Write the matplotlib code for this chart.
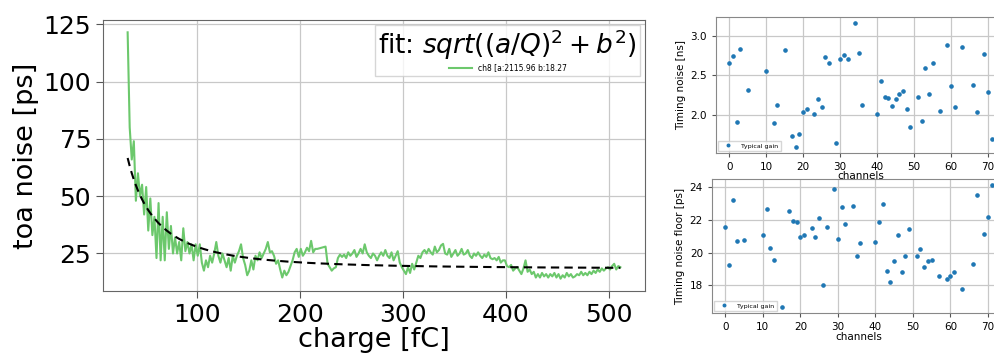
import numpy as np
import matplotlib
matplotlib.use("Agg")
import matplotlib.pyplot as plt

# toa noise vs injected charge (ch8)
charge = np.concatenate([np.arange(33, 218, 2), np.arange(225, 512, 2)])
toa_noise = [
    121.5, 80, 66, 74, 48, 60, 50, 55, 42, 54,
    35, 49, 33, 41, 23, 47, 22, 41, 22, 43,
    27, 37, 25, 32, 25, 30, 22, 36, 26, 30,
    25, 29, 22, 29, 24, 29, 21, 17.5, 22, 19,
    24, 21, 25, 30, 24, 21, 25, 22, 19, 23,
    17.5, 24, 21, 24, 26, 29, 23, 20, 15.5, 17.5,
    22, 18, 24, 22, 25.5, 23, 25, 27, 30, 25.5,
    26, 24, 20.5, 22, 18, 14.5, 17.5, 15.5, 17, 19.5,
    22, 25.5, 27, 23.5, 27, 24, 25.5, 27.5, 26, 30.5,
    25.5, 27, 27,
    28, 20.5, 19, 17.5, 18.5, 19, 23, 24.5, 23.5, 24.5,
    23, 25.5, 24, 25, 26.5, 23.5, 25, 27, 25, 29,
    25.5, 24, 23, 25, 24, 22, 24, 25.5, 24, 26.5,
    24, 23, 25.5, 22, 24, 26, 21, 19, 17.5, 16,
    19, 16.5, 20.5, 18, 21, 24, 23, 25.5, 26.5, 25,
    27, 25.5, 24.5, 28, 25.5, 26.5, 28.5, 29.2, 25, 24.5,
    27, 23.5, 25, 26.5, 24, 25, 27, 24.5, 25, 26.5,
    24, 23, 25, 24, 25.5, 24, 23, 24.5, 23.5, 25.5,
    23, 22.5, 23, 22, 23.5, 21, 22, 22, 19.5, 19,
    20, 17.5, 18.5, 19, 17.5, 16, 18.5, 22, 17, 18,
    16, 17, 14.5, 16, 14.5, 16.5, 15, 16, 14.5, 16,
    15, 16.5, 14.5, 16, 14, 15.5, 14.5, 16.5, 15, 16,
    14.5, 15, 16, 15.5, 17, 15.5, 16.5, 15.5, 17, 16,
    17.5, 16.5, 18, 17, 18.5, 17.5, 18.5, 19, 18, 19.5,
    20.5, 18, 19.5, 19,
]
fit_a = 2115.96
fit_b = 18.27

# per-channel results
ch_ns = [0, 1, 2, 3, 5, 10, 12, 13, 15, 17, 18, 19, 20, 21, 23, 24, 25, 26, 27, 29,
         30, 31, 32, 34, 35, 36, 40, 41, 42, 43, 44, 45, 46, 47, 48, 49, 51, 52, 53,
         54, 55, 57, 59, 60, 61, 63, 66, 67, 69, 70, 71]
timing_noise = [2.66, 2.74, 1.915, 2.834, 2.32, 2.553, 1.898, 2.123, 2.82, 1.736,
                1.596, 1.753, 2.034, 2.08, 2.013, 2.204, 2.102, 2.732, 2.651, 1.647,
                2.706, 2.757, 2.706, 3.16, 2.78, 2.12, 2.013, 2.43, 2.23, 2.217,
                2.115, 2.2, 2.26, 2.306, 2.077, 1.847, 2.23, 1.928, 2.59, 2.26,
                2.66, 2.047, 2.88, 2.366, 2.098, 2.864, 2.379, 2.034, 2.774, 2.285,
                1.70]

ch_ps = [0, 1, 2, 3, 5, 10, 11, 12, 13, 15, 17, 18, 19, 20, 21, 23, 24, 25, 26, 27,
         29, 30, 31, 32, 34, 35, 36, 40, 41, 42, 43, 44, 45, 46, 47, 48, 49, 51, 52,
         53, 54, 55, 57, 59, 60, 61, 63, 66, 67, 69, 70, 71]
noise_floor = [21.58, 19.26, 23.21, 20.73, 20.77, 21.09, 22.66, 20.28, 19.55, 16.66,
               22.56, 21.95, 21.88, 20.95, 21.07, 21.48, 20.97, 22.11, 18.02, 21.56,
               23.92, 20.81, 22.82, 21.76, 22.86, 19.79, 20.58, 20.66, 21.88, 22.96,
               18.87, 18.22, 19.5, 21.07, 18.79, 19.77, 21.42, 19.77, 20.2, 19.12,
               19.46, 19.53, 18.55, 18.35, 18.55, 18.79, 17.74, 19.3, 23.53, 21.13,
               22.15, 24.14]

W, H = 995, 356
fig = plt.figure(figsize=(W / 100, H / 100), dpi=100)


def box(l, t, r, b):
    return [l / W, 1 - b / H, (r - l) / W, (b - t) / H]


grid_kw = dict(color="#c8c8c8", lw=0.9)

# left: toa noise vs charge
ax = fig.add_axes(box(103, 20, 645, 291))
ax.plot(charge, toa_noise, color="#6cc86c", lw=1.5, label="ch8 [a:2115.96 b:18.27")
q = np.array(charge, dtype=float)
ax.plot(q, np.sqrt((fit_a / q) ** 2 + fit_b ** 2), "k--", lw=1.5, dashes=(4, 2.5))
ax.set_xticks([100, 200, 300, 400, 500])
ax.set_yticks([25, 50, 75, 100, 125])
ax.grid(True, **grid_kw)
ax.tick_params(labelsize=18, length=5, color="#555555")
ax.set_xlabel("charge [fC]", fontsize=19.5, labelpad=0)
ax.set_ylabel("toa noise [ps]", fontsize=19.5, labelpad=3)
for s in ax.spines.values():
    s.set_color("#666666")
leg = ax.legend(loc="upper right", fontsize=5.5, title="fit: $sqrt((a/Q)^2 + b^2)$",
                title_fontsize=19, borderaxespad=0.6, handlelength=3,
                edgecolor="#cccccc", fancybox=False)
leg._legend_box.sep = 1

# right top: timing noise per channel
ax1 = fig.add_axes(box(716, 17, 1005, 153))
ax1.plot(ch_ns, timing_noise, "o", ms=2.3, color="#1f77b4", label="Typical gain")
ax1.set_xticks(range(0, 71, 10))
ax1.grid(True, **grid_kw)
ax1.tick_params(labelsize=7.5, length=3, color="#555555")
ax1.set_xlabel("channels", fontsize=7.5, labelpad=-1)
ax1.set_ylabel("Timing noise [ns]", fontsize=7.5, labelpad=3)
ax1.legend(loc="lower left", fontsize=4.5, markerscale=0.8, borderaxespad=0.3,
           handlelength=2.5, edgecolor="#cccccc", fancybox=False)
for s in ax1.spines.values():
    s.set_color("#888888")

# right bottom: noise floor per channel
ax2 = fig.add_axes(box(712, 179, 1005, 313))
ax2.plot(ch_ps, noise_floor, "o", ms=2.3, color="#1f77b4", label="Typical gain")
ax2.set_xticks(range(0, 71, 10))
ax2.set_yticks([18, 20, 22, 24])
ax2.grid(True, **grid_kw)
ax2.tick_params(labelsize=7.5, length=3, color="#555555")
ax2.set_xlabel("channels", fontsize=7.5, labelpad=0)
ax2.set_ylabel("Timing noise floor [ps]", fontsize=7.5, labelpad=3)
ax2.legend(loc="lower left", fontsize=4.5, markerscale=0.8, borderaxespad=0.3,
           handlelength=2.5, edgecolor="#cccccc", fancybox=False)
for s in ax2.spines.values():
    s.set_color("#888888")

fig.savefig("out.png", dpi=100)
